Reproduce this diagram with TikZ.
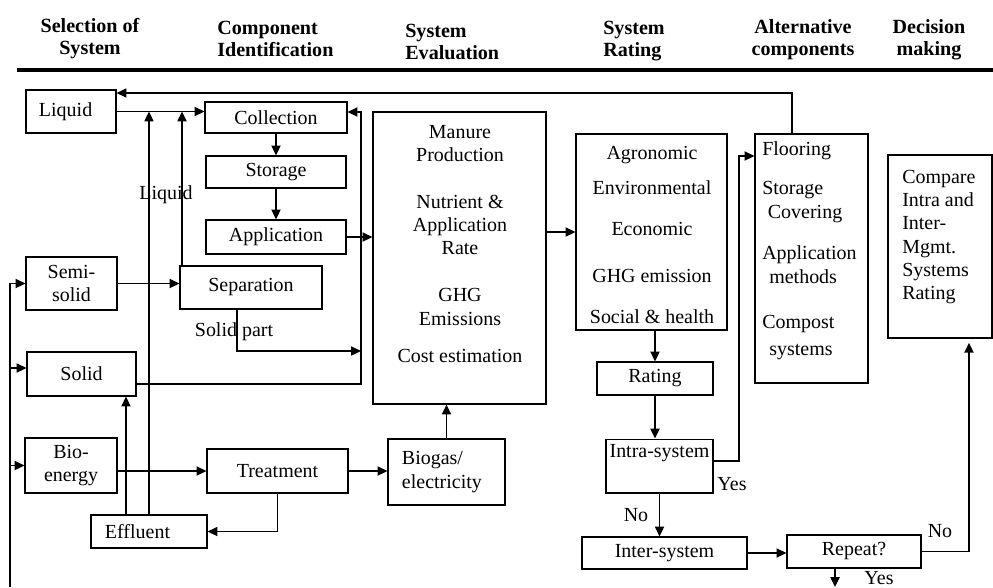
\documentclass[tikz,border=0pt]{standalone}
\usepackage{fontspec}
\setmainfont{Liberation Serif}
\usetikzlibrary{arrows.meta}

\begin{document}
\begin{tikzpicture}[x=0.025cm, y=-0.025cm, >={Triangle[length=7pt, width=6.5pt]},
  box/.style={draw, line width=0.8pt, rectangle, inner sep=0pt, font=\fontsize{14.2}{16.5}\selectfont},
  txt/.style={inner sep=0pt, font=\fontsize{14.2}{16.5}\selectfont},
  head/.style={inner sep=0pt, font=\fontsize{14.3}{15.6}\selectfont\bfseries},
  flow/.style={->, line width=1.1pt},
  thinflow/.style={->, line width=0.8pt}]
  \useasboundingbox (0,0) rectangle (993,587);
  % Column headings
  \node[head, align=center] (hsel) at (90,39) {Selection of\\System};
  \node[head, align=left, anchor=west] (hcomp) at (217,39) {Component\\Identification};
  \node[head, align=left, anchor=west] (heval) at (405,42) {System\\Evaluation};
  \node[head, align=left, anchor=west] (hrate) at (603,41) {System\\Rating};
  \node[head, align=center] (halt) at (803,40) {Alternative\\components};
  \node[head, align=center] (hdec) at (929,40) {Decision\\making};
  \draw[line width=2.2pt] (17,70) -- (993,70);

  % Selection of system
  \node[box, text width=1.6cm, inner xsep=0.325cm, minimum height=1.075cm, align=left] (liq) at (71,111.5) {Liquid};
  \node[box, minimum width=2.275cm, minimum height=1.325cm, align=center] (semi) at (71.5,283.5) {Semi-\\solid};
  \node[box, minimum width=2.725cm, minimum height=1.1cm] (solid) at (81.5,374) {Solid};
  \node[box, minimum width=2.3cm, minimum height=1.375cm, align=center] (bio) at (71,465.5) {Bio-\\energy};
  \node[box, text width=2.2cm, inner xsep=0.35cm, minimum height=0.825cm, align=left] (eff) at (149,531.5) {Effluent};

  % Component identification
  \node[box, minimum width=3.55cm, minimum height=0.775cm] (coll) at (276,117.5) {Collection};
  \node[box, minimum width=3.5cm, minimum height=0.8cm] (stor) at (276,172) {Storage};
  \node[box, minimum width=3.5cm, minimum height=0.85cm] (appl) at (276,237) {Application};
  \node[box, minimum width=3.55cm, minimum height=1.075cm] (sep) at (251,287.5) {Separation};
  \node[box, minimum width=3.525cm, minimum height=1.1cm] (treat) at (277.5,471) {Treatment};
  \node[box, text width=2.225cm, inner xsep=0.35cm, minimum height=1.65cm, align=left] (gas) at (446.5,472) {Biogas/\\electricity};

  % System evaluation
  \node[box, minimum width=4.325cm, minimum height=7.3cm] (eval) at (459.5,258) {};
  \node[txt, align=center, anchor=north] (evaltxt) at (460,125)
    {Manure\\Production\\[16.8pt]Nutrient \&\\Application\\Rate\\[17pt]GHG\\Emissions\\[10.4pt]Cost estimation};

  % System rating
  \node[box, minimum width=3.775cm, minimum height=4.9cm] (crit) at (651.5,232) {};
  \node[txt, align=center, anchor=north] (crittxt) at (652,146)
    {Agronomic\\[8.3pt]Environmental\\[12.6pt]Economic\\[16.8pt]GHG emission\\[12.6pt]Social \& health};
  \node[box, minimum width=2.9cm, minimum height=0.825cm] (rate) at (655,378.5) {Rating};
  \node[box, minimum width=2.675cm, text height=12.8pt, text depth=25.5pt] (intra) at (659.5,466) {Intra-system};
  \node[box, minimum width=4.125cm, minimum height=0.8cm] (inter) at (664.5,553) {Inter-system};
  \node[box, minimum width=3.35cm, minimum height=0.825cm] (rep) at (854,551.5) {Repeat?};

  % Alternative components and decision
  \node[box, minimum width=2.825cm, minimum height=6.225cm] (alt) at (811.5,258.5) {};
  \node[txt, align=left, anchor=north west] (alttxt) at (762,141)
    {Flooring\\[11.8pt]Storage\\\hspace*{4pt}Covering\\[12.6pt]Application\\[1pt]\hspace*{5pt}methods\\[15.4pt]Compost\\[2.5pt]\hspace*{5pt}systems};
  \node[box, minimum width=2.6cm, minimum height=4.575cm] (cmp) at (940,246.5) {};
  \node[txt, align=left, anchor=north west] (cmptxt) at (902,170)
    {Compare\\Intra and\\Inter-\\Mgmt.\\Systems\\Rating};

  % Feedback from alternatives to liquid
  \coordinate (fb) at (792,93);
  \draw[thinflow] (alt.north -| fb) -- (fb) -- (fb -| liq.east);
  % Liquid streams to collection
  \draw[flow] (liq.east) -- (liq.east -| coll.west);
  \coordinate (sl) at (182,0);
  \draw[flow] (sep.north -| sl) -- (sl |- liq.east);
  \node[txt] (lql) at (166,195) {Liquid};
  \draw[thinflow] (eff.north) -- (eff.north |- liq.east);
  \draw[flow] (coll) -- (stor);
  \draw[flow] (stor) -- (appl);
  \draw[flow] (appl.east) -- (appl.east -| eval.west);
  % Solid streams
  \coordinate (bus) at (361,384);
  \coordinate (bt) at (361,112);
  \draw[flow] (solid.east |- bus) -- (bus) -- (bt) -- (bt -| coll.east);
  \coordinate (sp) at (237,351);
  \draw[thinflow] (sep.south -| sp) -- (sp) -- (sp -| bus);
  \node[txt] (spl) at (234,332) {Solid part};
  \draw[flow] (semi.east) -- (semi.east -| sep.west);
  % Left feed line
  \coordinate (lb) at (10,587);
  \draw[flow] (lb) -- (lb |- semi.west) -- (semi.west);
  \draw[flow] (lb |- 0,368) -- (solid.west |- 0,368);
  \draw[flow] (lb |- bio.west) -- (bio.west);
  % Bio-energy path
  \draw[flow] (bio.east |- treat.west) -- (treat.west);
  \draw[flow] (treat.east) -- (treat.east -| gas.west);
  \draw[flow] (gas.north) -- (gas.north |- eval.south);
  \draw[flow] (treat.south) -- (treat.south |- eff.east) -- (eff.east);
  \draw[flow] (eff.north -| 126,0) -- (solid.south -| 126,0);

  % Rating and decisions
  \draw[flow] (eval.east |- crit.west) -- (crit.west);
  \draw[flow] (rate.north |- crit.south) -- (rate.north);
  \draw[flow] (rate.south) -- (rate.south |- intra.north);
  \coordinate (yb) at (739,461);
  \coordinate (yt) at (739,156);
  \draw[flow] (intra.east |- yb) -- (yb) -- (yt) -- (yt -| alt.west);
  \node[txt] (yes1) at (732,484) {Yes};
  \draw[flow] (intra.south) -- (intra.south |- inter.north);
  \node[txt] (no1) at (636,515) {No};
  \draw[flow] (inter.east) -- (inter.east -| rep.west);
  \coordinate (nr) at (969,0);
  \draw[flow, shorten >=3pt] (rep.east) -- (rep.east -| nr) -- (nr |- cmp.south);
  \node[txt] (no2) at (940,531) {No};
  \coordinate (ry) at (835,587);
  \draw[flow] (rep.south -| ry) -- (ry);
  \node[txt] (yes2) at (879,578) {Yes};
\end{tikzpicture}
\end{document}
